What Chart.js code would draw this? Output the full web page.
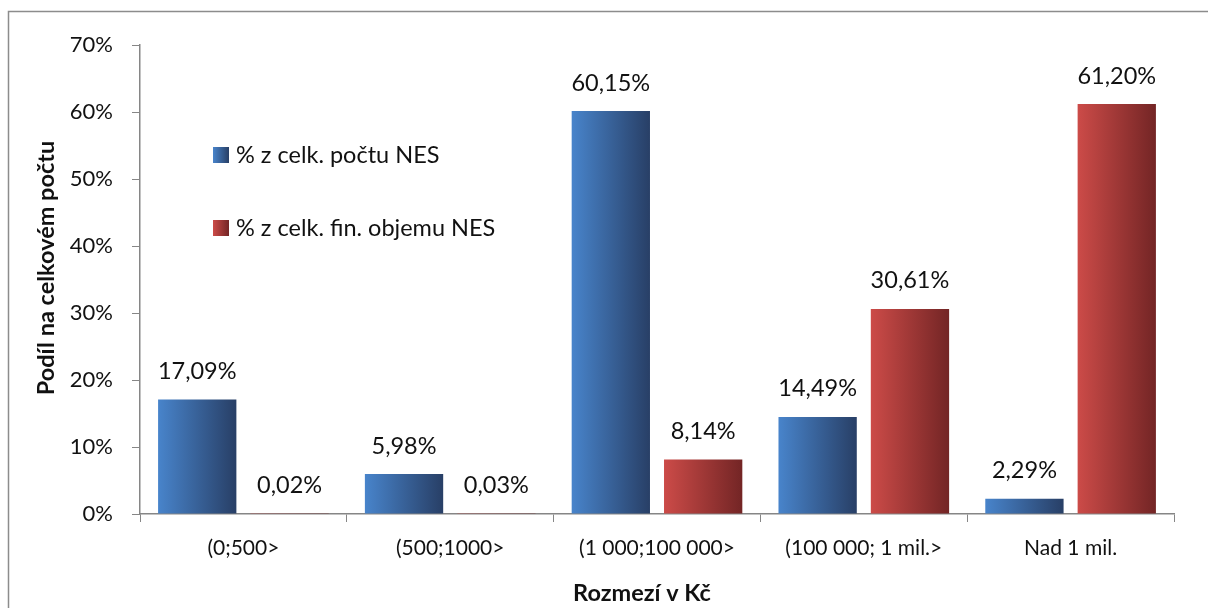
<!DOCTYPE html>
<html><head><meta charset="utf-8">
<script src="https://cdn.jsdelivr.net/npm/chart.js@4/dist/chart.umd.min.js"></script>
<style>html,body{margin:0;padding:0;background:#fff}#w{width:1208px;height:608px;position:relative}</style>
</head>
<body><div id="w"><canvas id="c" width="1208" height="608"></canvas></div>
<script>
const categories = ['(0;500>', '(500;1000>', '(1 000;100 000>', '(100 000; 1 mil.>', 'Nad 1 mil.'];
const countShare = [17.09, 5.98, 60.15, 14.49, 2.29];
const volumeShare = [0.02, 0.03, 8.14, 30.61, 61.20];
const seriesNames = ['% z celk. počtu NES', '% z celk. fin. objemu NES'];
const yTickValues = [0, 10, 20, 30, 40, 50, 60, 70];
const xTitle = 'Rozmezí v Kč';
const yTitle = 'Podíl na celkovém počtu';

const FONT = 'Lato, "Open Sans", sans-serif';
const gradColors = [['#4884cb', '#283f66'], ['#cc4b48', '#732525']];

function fmt(v) { return v.toFixed(2).replace('.', ',') + '%'; }

const decor = {
  id: 'decor',
  beforeDatasetsDraw(chart) {
    const ctx = chart.ctx;
    chart.data.datasets.forEach((ds, di) => {
      const meta = chart.getDatasetMeta(di);
      meta.data.forEach(el => {
        const x0 = el.x - el.width / 2, x1 = el.x + el.width / 2;
        const g = ctx.createLinearGradient(x0, 0, x1, 0);
        g.addColorStop(0, gradColors[di][0]);
        g.addColorStop(1, gradColors[di][1]);
        el.options = Object.assign({}, el.options, { backgroundColor: g });
      });
    });
  },
  afterDraw(chart) {
    const ctx = chart.ctx;
    ctx.save();
    // frame
    ctx.strokeStyle = '#8c8c8c';
    ctx.lineWidth = 1.5;
    ctx.strokeRect(8.5, 11.5, 1400, 800);
    // data labels
    ctx.fillStyle = '#111';
    ctx.font = '23.5px ' + FONT;
    ctx.textAlign = 'center';
    ctx.textBaseline = 'middle';
    chart.data.datasets.forEach((ds, di) => {
      const meta = chart.getDatasetMeta(di);
      meta.data.forEach((el, i) => {
        ctx.fillText(fmt(ds.data[i]), el.x, el.y - 28);
      });
    });
    // legend
    const ly = [155, 228];
    ctx.font = '23.5px ' + FONT;
    chart.data.datasets.forEach((ds, di) => {
      const g = ctx.createLinearGradient(213, 0, 229, 0);
      g.addColorStop(0, gradColors[di][0]);
      g.addColorStop(1, gradColors[di][1]);
      ctx.fillStyle = g;
      ctx.fillRect(213, ly[di] - 8, 16, 16);
      ctx.fillStyle = '#111';
      ctx.textAlign = 'left';
      ctx.fillText(ds.label, 236, ly[di]);
    });
    // axis titles
    ctx.font = 'bold 23.5px ' + FONT;
    ctx.textAlign = 'center';
    ctx.fillText(xTitle, 642, 593);
    ctx.translate(46, 268);
    ctx.rotate(-Math.PI / 2);
    ctx.fillText(yTitle, 0, 0);
    ctx.restore();
  }
};

new Chart(document.getElementById('c'), {
  type: 'bar',
  data: {
    labels: categories,
    datasets: [
      { label: seriesNames[0], data: countShare, backgroundColor: gradColors[0][0] },
      { label: seriesNames[1], data: volumeShare, backgroundColor: gradColors[1][0] }
    ]
  },
  options: {
    responsive: false,
    animation: false,
    devicePixelRatio: 1,
    categoryPercentage: 0.893,
    barPercentage: 0.848,
    layout: { padding: { top: 45, right: 34, left: 0, bottom: 0 } },
    plugins: { legend: { display: false }, tooltip: { enabled: false } },
    scales: {
      x: {
        grid: { drawOnChartArea: false, tickLength: 8, color: '#868686', offset: true },
        border: { color: '#868686', width: 1.5 },
        ticks: { color: '#111', font: { family: FONT, size: 21 }, padding: 14, maxRotation: 0 },
        afterFit: s => { s.height = 94; }
      },
      y: {
        min: 0, max: 70,
        afterBuildTicks: s => { s.ticks = yTickValues.map(v => ({ value: v })); },
        grid: { drawOnChartArea: false, tickLength: 8, color: '#868686' },
        border: { color: '#868686', width: 1.5 },
        ticks: { color: '#111', font: { family: FONT, size: 22 }, padding: 19, callback: v => v + '%' },
        afterFit: s => { s.width = 140; }
      }
    }
  },
  plugins: [decor]
});
</script>
</body></html>
